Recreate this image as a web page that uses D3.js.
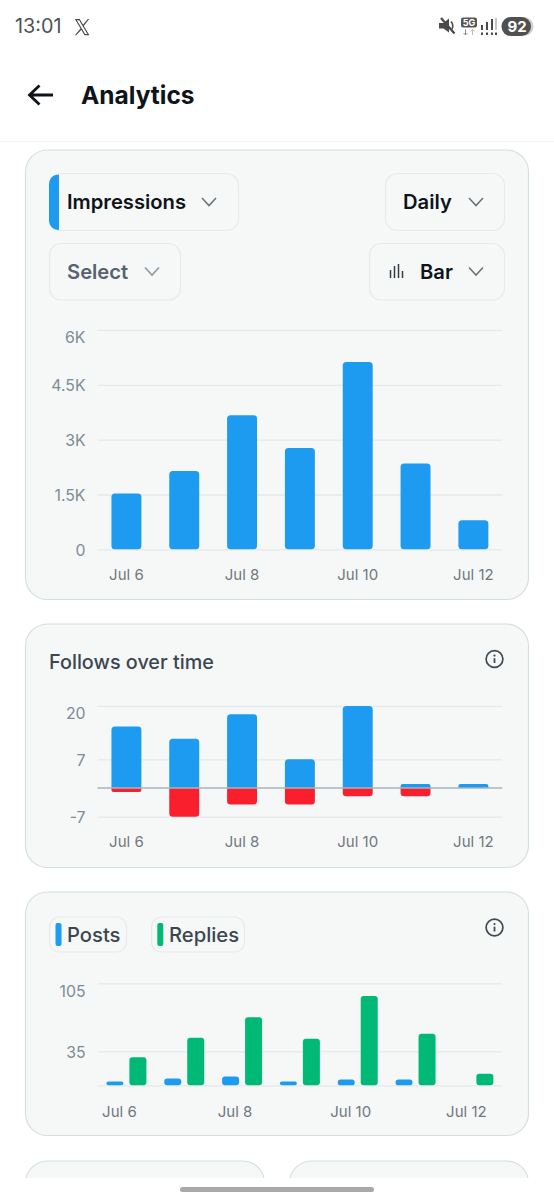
<!DOCTYPE html>
<html>
<head>
<meta charset="utf-8">
<title>Analytics</title>
<script src="https://cdnjs.cloudflare.com/ajax/libs/d3/7.9.0/d3.min.js"></script>
<style>
  html, body { margin: 0; padding: 0; background: #fff; }
  svg { display: block; }
  text { font-family: Inter, "Noto Sans", sans-serif; }
</style>
</head>
<body>
<svg id="page" width="554" height="1200" viewBox="0 0 554 1200"></svg>
<script>
// Daily account metrics
const days = ["Jul 6", "Jul 7", "Jul 8", "Jul 9", "Jul 10", "Jul 11", "Jul 12"];
const labelledDays = ["Jul 6", "Jul 8", "Jul 10", "Jul 12"];

const impressions = [1530, 2140, 3665, 2770, 5125, 2345, 795];
const impressionTicks = [0, 1500, 3000, 4500, 6000];
const impressionTickLabels = ["0", "1.5K", "3K", "4.5K", "6K"];

const follows = [15, 12, 18, 7, 20, 1, 1];
const unfollows = [-1, -7, -4, -4, -2, -2, 0];
const followTicks = [-7, 7, 20];

const posts = [4, 7, 9, 4, 6, 6, 0];
const replies = [29, 49, 70, 48, 92, 53, 12];
const activityTicks = [0, 35, 105];

const BLUE = "#1d9bf0", RED = "#f91f2d", GREEN = "#00b977";
const CARD_FILL = "#f6f8f8", CARD_STROKE = "#d6dee1";
const PILL_STROKE = "#e6eaec";
const GRID = "#e4e9ed";
const INK = "#0f1419", SLATE = "#3b4650";

const svg = d3.select("#page");
const plotX = [97.5, 502.3];

// Rounded-corner rectangle path where top and bottom radii can differ
function barPath(x, y0, y1, w, rTop, rBottom) {
  const top = Math.min(y0, y1), bottom = Math.max(y0, y1);
  const h = bottom - top;
  rTop = Math.min(rTop, h / 2, w / 2);
  rBottom = Math.min(rBottom, h / 2, w / 2);
  const p = d3.path();
  p.moveTo(x + rTop, top);
  p.lineTo(x + w - rTop, top);
  p.arcTo(x + w, top, x + w, top + rTop, rTop);
  p.lineTo(x + w, bottom - rBottom);
  p.arcTo(x + w, bottom, x + w - rBottom, bottom, rBottom);
  p.lineTo(x + rBottom, bottom);
  p.arcTo(x, bottom, x, bottom - rBottom, rBottom);
  p.lineTo(x, top + rTop);
  p.arcTo(x, top, x + rTop, top, rTop);
  p.closePath();
  return p.toString();
}

function card(x, y, w, h) {
  svg.append("rect").attr("x", x + .5).attr("y", y).attr("width", w - 1).attr("height", h)
    .attr("rx", 22).attr("fill", CARD_FILL).attr("stroke", CARD_STROKE).attr("stroke-width", 1.2);
}

function pill(x, y, w, h, r) {
  svg.append("rect").attr("x", x + .5).attr("y", y + .5).attr("width", w - 1).attr("height", h - 1)
    .attr("rx", r || 12).attr("fill", "#f6f8f8").attr("stroke", PILL_STROKE).attr("stroke-width", 1.2);
}

function label(x, y, str, size, weight, fill, anchor) {
  return svg.append("text").attr("x", x).attr("y", y).attr("dy", "0.35em")
    .attr("text-anchor", anchor || "start")
    .attr("font-size", size).attr("font-weight", weight).attr("fill", fill).text(str);
}

function chevron(cx, cy, stroke) {
  svg.append("path").attr("d", `M${cx - 7},${cy - 4}L${cx},${cy + 3.5}L${cx + 7},${cy - 4}`)
    .attr("fill", "none").attr("stroke", stroke).attr("stroke-width", 1.6);
}

function infoIcon(cx, cy) {
  const g = svg.append("g").attr("transform", `translate(${cx},${cy})`);
  g.append("circle").attr("r", 8.4).attr("fill", "none").attr("stroke", "#3f4a54").attr("stroke-width", 1.7);
  g.append("circle").attr("cy", -3.4).attr("r", 1.1).attr("fill", "#3f4a54");
  g.append("line").attr("y1", -.8).attr("y2", 4).attr("stroke", "#3f4a54").attr("stroke-width", 1.8);
}

// Gridlines and value labels; the top label sits just under its gridline
function valueAxis(y, ticks, format, topTick, hidden) {
  const axis = d3.axisLeft(y).tickValues(ticks).tickFormat(format)
    .tickSize(-(plotX[1] - plotX[0])).tickPadding(12);
  const g = svg.append("g").attr("transform", `translate(${plotX[0]},0)`).call(axis);
  g.select(".domain").remove();
  g.selectAll(".tick line").attr("stroke", GRID).attr("stroke-width", 1.3);
  g.selectAll(".tick text")
    .attr("font-family", "Inter, sans-serif").attr("font-size", 15.8).attr("fill", "#7d8b97")
    .attr("dy", d => d === topTick ? "0.82em" : "0.36em");
  return g;
}

function dayAxis(x, yPos, shift) {
  const axis = d3.axisBottom(x).tickValues(labelledDays).tickSize(0).tickPadding(0);
  const g = svg.append("g").attr("transform", `translate(${shift || 0},${yPos})`).call(axis);
  g.select(".domain").remove();
  g.selectAll(".tick text")
    .attr("font-family", "Inter, sans-serif").attr("font-size", 15).attr("fill", "#70777d")
    .attr("y", 0).attr("dy", "0.35em");
  return g;
}

/* ---------- Status bar and header ---------- */
svg.append("rect").attr("width", 554).attr("height", 1200).attr("fill", "#fff");
label(15, 26.5, "13:01", 19.8, 400, "#4f5256");
// X logo
svg.append("path").attr("transform", "translate(74.5,19) scale(0.62,0.68)")
  .attr("d", "M0.6,0H8.4L24,24H16.2ZM3.8,1.8L17.2,22.2H20.8L7.4,1.8ZM21.5,0H23.6L14.5,10.6L13.3,9ZM10.5,13.2L11.8,15L2.8,24H0.6Z")
  .attr("fill", "#45484c");
// Muted speaker
svg.append("path").attr("d", "M439,23H443.5L449,18.5V32.5L443.5,28.5H439Z").attr("fill", "#4a4a4a");
svg.append("path").attr("d", "M441,18L454.5,33.5").attr("stroke", "#4a4a4a").attr("stroke-width", 2.2);
svg.append("path").attr("d", "M451,21.5Q454,25 452,29").attr("fill", "none").attr("stroke", "#4a4a4a").attr("stroke-width", 1.6);
// Network type
svg.append("rect").attr("x", 461).attr("y", 17.5).attr("width", 16).attr("height", 10).attr("rx", 2).attr("fill", "#555");
label(469, 22.8, "5G", 9, 700, "#fff", "middle");
svg.append("path").attr("d", "M465.5,29.5V35M463.5,33L465.5,35L467.5,33").attr("fill", "none").attr("stroke", "#8a8a8a").attr("stroke-width", 1);
svg.append("path").attr("d", "M472.5,35V29.5M470.5,31.5L472.5,29.5L474.5,31.5").attr("fill", "none").attr("stroke", "#bbb").attr("stroke-width", 1);
// Signal strength
[[481, 25], [486, 22], [491, 19], [495, 18]].forEach(([x, top], i) => {
  svg.append("rect").attr("x", x).attr("y", top).attr("width", 2).attr("height", 30 - top)
    .attr("fill", i === 3 ? "#c4c4c4" : "#4a4a4a");
  svg.append("rect").attr("x", x).attr("y", 32.5).attr("width", 2).attr("height", 2.5).attr("fill", "#4a4a4a");
});
// Battery
svg.append("rect").attr("x", 501.5).attr("y", 17).attr("width", 32).attr("height", 19).attr("rx", 9.5).attr("fill", "#cfcfcf");
svg.append("rect").attr("x", 501.5).attr("y", 17).attr("width", 29.5).attr("height", 19).attr("rx", 9.5).attr("fill", "#505050");
label(517, 27, "92", 15, 700, "#fff", "middle");

// Back arrow and title
svg.append("path").attr("d", "M53,95H29.5M39.5,85.5L29.5,95L39.5,104.5")
  .attr("fill", "none").attr("stroke", INK).attr("stroke-width", 2.8);
label(81, 95.5, "Analytics", 24.5, 700, INK);
svg.append("line").attr("x1", 0).attr("x2", 554).attr("y1", 141.5).attr("y2", 141.5).attr("stroke", "#f1f3f4").attr("stroke-width", 1);

/* ---------- Impressions card ---------- */
card(25, 150, 504, 449.5);
pill(49, 173, 190, 58);
svg.append("path").attr("d", "M59,174.5V230C53,230 49,226 49,220V184.5C49,178.5 53,174.5 59,174.5Z").attr("fill", BLUE);
label(67, 202, "Impressions", 20.2, 600, INK);
chevron(209, 202, "#6a747c");
pill(385, 173, 120, 58);
label(403, 202, "Daily", 20.2, 600, INK);
chevron(476, 202, "#6a747c");
pill(49, 243, 132, 57.5);
label(67, 271.5, "Select", 20.2, 600, "#56636f");
chevron(152, 271.5, "#8d979f");
pill(369, 243, 136, 57.5);
label(420, 271.5, "Bar", 20.2, 600, INK);
chevron(476, 271.5, "#6a747c");
// Bar-chart glyph inside the chart type selector
[[390.5, 270, 278], [394.5, 266, 278], [398.5, 264, 278], [402.5, 271, 278]].forEach(([x, a, b]) => {
  svg.append("line").attr("x1", x).attr("x2", x).attr("y1", a).attr("y2", b).attr("stroke", "#333c44").attr("stroke-width", 1.5);
});

const xBand = d3.scaleBand().domain(days).range(plotX).paddingInner(0.482).paddingOuter(0.241);

const yImpressions = d3.scaleLinear().domain([0, 6000]).range([549.3, 330]);
valueAxis(yImpressions, impressionTicks, d => impressionTickLabels[impressionTicks.indexOf(d)], 6000);
svg.append("g").selectAll("path").data(impressions).join("path")
  .attr("fill", BLUE)
  .attr("d", (d, i) => barPath(xBand(days[i]), yImpressions(d), yImpressions(0), xBand.bandwidth(), 3.5, 3.5));
dayAxis(xBand, 575);

/* ---------- Follows card ---------- */
card(25, 624, 504, 243.5);
label(49, 662.5, "Follows over time", 19.8, 500, SLATE);
infoIcon(494.5, 659);

const yFollows = d3.scaleLinear().domain([-7, 20]).range([816.7, 706]);
valueAxis(yFollows, followTicks, d => d, 20);
svg.append("g").selectAll("path").data(follows).join("path")
  .attr("fill", BLUE)
  .attr("d", (d, i) => barPath(xBand(days[i]), yFollows(d), yFollows(0), xBand.bandwidth(), 3.5, 0));
svg.append("g").selectAll("path")
  .data(unfollows.map((v, i) => ({ v, day: days[i] })).filter(d => d.v < 0)).join("path")
  .attr("fill", RED)
  .attr("d", d => barPath(xBand(d.day), yFollows(0), yFollows(d.v), xBand.bandwidth(), 0, 3.5));
svg.append("line").attr("x1", plotX[0]).attr("x2", plotX[1])
  .attr("y1", yFollows(0)).attr("y2", yFollows(0)).attr("stroke", "#a9b5bd").attr("stroke-width", 1.6);
dayAxis(xBand, 842);

/* ---------- Posts and replies card ---------- */
card(25, 892, 504, 243.5);
pill(49, 916.5, 78, 36, 10);
svg.append("rect").attr("x", 55.5).attr("y", 923).attr("width", 6).attr("height", 23).attr("rx", 2).attr("fill", BLUE);
label(67, 935, "Posts", 20.2, 500, SLATE);
pill(151, 916.5, 94, 36, 10);
svg.append("rect").attr("x", 157.3).attr("y", 923).attr("width", 6).attr("height", 23).attr("rx", 2).attr("fill", GREEN);
label(169, 935, "Replies", 20.2, 500, SLATE);
infoIcon(494.5, 927.5);

const yActivity = d3.scaleLinear().domain([0, 105]).range([1085.3, 983.3]);
valueAxis(yActivity, activityTicks, d => d === 0 ? "" : d, 105);
const xInner = d3.scaleBand().domain(["posts", "replies"]).range([0, 40]).paddingInner(0.26);
const groupLeft = day => xBand(day) + xBand.bandwidth() / 2 - 20;

[[posts, "posts", BLUE], [replies, "replies", GREEN]].forEach(([values, key, color]) => {
  svg.append("g").selectAll("path").data(values.map((v, i) => ({ v, day: days[i] })).filter(d => d.v > 0)).join("path")
    .attr("fill", color)
    .attr("d", d => barPath(groupLeft(d.day) + xInner(key), yActivity(d.v), yActivity(0), xInner.bandwidth(), 3, 3));
});
dayAxis(xBand, 1111.5, -7);

/* ---------- Next row of cards, cut off by the navigation area ---------- */
card(25, 1161, 240, 60);
card(289, 1161, 240, 60);
svg.append("rect").attr("y", 1178).attr("width", 554).attr("height", 22).attr("fill", "#fff");
svg.append("rect").attr("x", 180).attr("y", 1187).attr("width", 194).attr("height", 5).attr("rx", 2.5).attr("fill", "#a8a8a8");
</script>
</body>
</html>
